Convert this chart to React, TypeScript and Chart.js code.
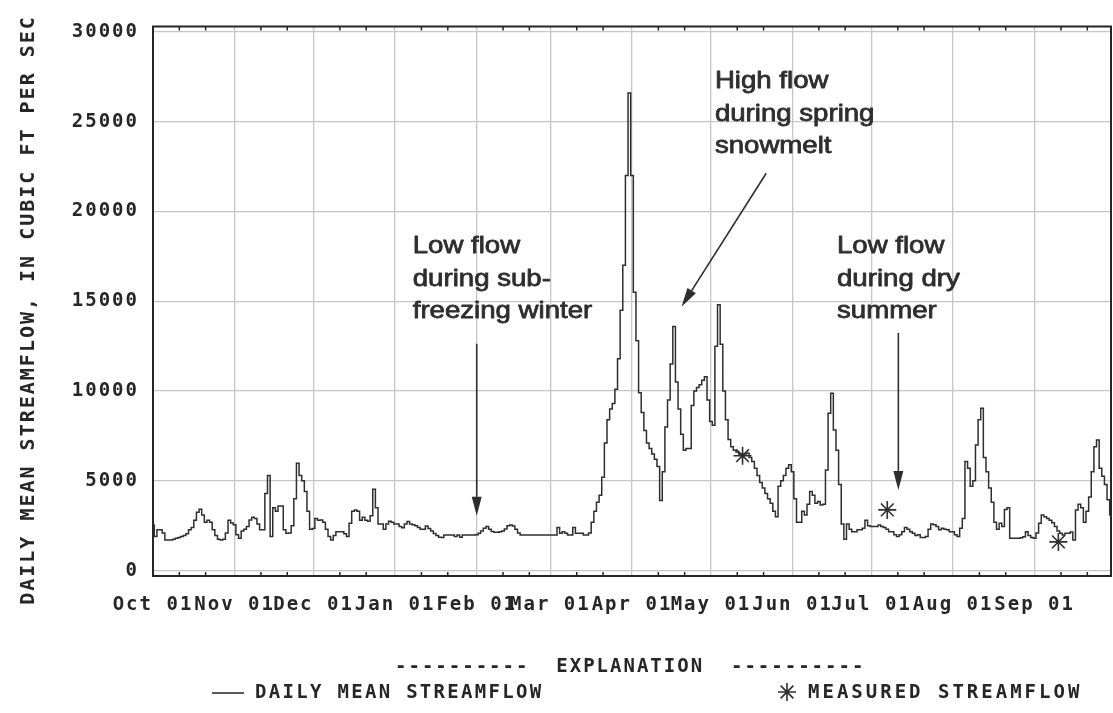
import { useEffect, useRef } from "react";
import { Chart, registerables } from "chart.js";

Chart.register(...registerables);

// Water year, day 0 = October 1
const MONTH_LABELS = ["Oct 01", "Nov 01", "Dec 01", "Jan 01", "Feb 01", "Mar 01", "Apr 01", "May 01", "Jun 01", "Jul 01", "Aug 01", "Sep 01"];
const MONTH_START_DAYS = [0, 31, 61, 92, 123, 151, 182, 212, 243, 273, 304, 335];
const MINOR_TICK_DAYS = MONTH_START_DAYS.flatMap((d) => [d + 10, d + 20]);
const Y_TICKS = [0, 5000, 10000, 15000, 20000, 25000, 30000];

// Daily mean streamflow, cubic feet per second
const octFlow = [2545, 1900, 2270, 2270, 2100, 1710, 1710, 1710, 1750, 1800, 1850, 1900, 1950, 2050, 2270, 2400, 2800, 3250, 3420, 3100, 2700, 2800, 2700, 2270, 1950, 1750, 1700, 1750, 2100, 2800, 2650];
const novFlow = [2550, 2000, 1800, 2200, 2300, 2450, 2820, 2970, 2900, 2600, 2270, 2270, 4300, 5300, 1900, 3500, 3300, 3600, 3600, 2270, 2080, 2100, 2500, 4000, 5980, 5300, 5000, 4400, 3300, 2300];
const decFlow = [2350, 2900, 2800, 2820, 2700, 2300, 1900, 1700, 1950, 2170, 2170, 2170, 2050, 1900, 2640, 3300, 3380, 3300, 2800, 2970, 2800, 2750, 3050, 4530, 3500, 2600, 2600, 2300, 2600, 2750, 2700];
const janFlow = [2600, 2600, 2460, 2380, 2600, 2730, 2600, 2560, 2500, 2400, 2300, 2300, 2480, 2350, 2200, 2070, 1950, 1860, 1840, 1990, 1990, 1990, 1990, 1900, 1990, 1860, 1990, 1990, 1990, 1990, 1990];
const febFlow = [2000, 2080, 2200, 2360, 2450, 2300, 2180, 2140, 2140, 2170, 2200, 2320, 2500, 2540, 2480, 2300, 2100, 1990, 1990, 1990, 1990, 1990, 1990, 1990, 1990, 1990, 1990, 1990];
const marFlow = [1990, 1990, 1990, 2400, 2080, 2170, 2080, 1990, 1990, 2400, 2080, 2080, 2080, 1990, 1990, 2100, 2700, 3300, 3800, 4200, 5200, 7100, 8400, 9000, 9300, 10100, 11800, 14500, 17000, 22000, 26600];
const aprFlow = [22000, 15500, 12800, 9900, 8800, 7800, 7100, 6800, 6500, 6200, 5800, 3900, 5500, 8000, 9500, 11500, 13600, 10500, 9000, 7600, 6700, 6800, 6800, 9200, 10000, 10200, 10350, 10600, 10800, 9500];
const mayFlow = [8300, 8100, 12500, 14800, 12600, 10000, 8400, 7300, 6900, 6700, 6600, 6500, 6450, 6500, 6540, 6300, 6070, 5700, 5300, 4900, 4600, 4300, 4000, 3750, 3300, 3000, 4700, 5000, 5300, 5700, 5900];
const junFlow = [5500, 4000, 2700, 2700, 3300, 3100, 3700, 4400, 4200, 3750, 3850, 3650, 3700, 5600, 8760, 9880, 7830, 6700, 4800, 2600, 1750, 2600, 2300, 2170, 2170, 2270, 2270, 2360, 2800, 2500];
const julFlow = [2450, 2450, 2450, 2545, 2450, 2400, 2300, 2170, 2170, 2000, 1900, 2000, 2170, 2400, 2300, 2170, 2080, 1950, 2000, 1850, 1850, 1900, 2300, 2600, 2550, 2450, 2270, 2360, 2300, 2270, 2170];
const augFlow = [2170, 2000, 1900, 2360, 2900, 6070, 5700, 4700, 5000, 7000, 8400, 9040, 6300, 5500, 4600, 3800, 2700, 2300, 2640, 2450, 3400, 3500, 1800, 1800, 1800, 1800, 1830, 1890, 2170, 1950, 1850];
const sepFlow = [1800, 2100, 2640, 3100, 3000, 2900, 2800, 2660, 2450, 2200, 2080, 1990, 2080, 2080, 2150, 1700, 3380, 3700, 3500, 2700, 3300, 4100, 5500, 6900, 7280, 5700, 5250, 4800, 3940, 3100];

// Field measurements of streamflow
const measuredDays = [224, 279, 344];
const measuredFlow = [6400, 3380, 1600];

// Callout notes, anchored at (day, flow) of the first line's left baseline
const noteTexts = [
  ["Low flow", "during sub-", "freezing winter"],
  ["High flow", "during spring", "snowmelt"],
  ["Low flow", "during dry", "summer"],
];
const noteAnchorDays = [98.7, 213.5, 259.9];
const noteAnchorFlows = [17680, 26870, 17680];

// Callout arrows: tail (day, flow) -> head (day, flow)
const arrowTailDays = [123, 233, 283.2];
const arrowTailFlows = [12630, 22130, 13240];
const arrowHeadDays = [123, 200.8, 283.2];
const arrowHeadFlows = [3050, 14700, 4495];

const dailyFlow = [...octFlow, ...novFlow, ...decFlow, ...janFlow, ...febFlow, ...marFlow, ...aprFlow, ...mayFlow, ...junFlow, ...julFlow, ...augFlow, ...sepFlow];

const MONO = '"DejaVu Sans Mono", monospace';
const SANS = '"Liberation Sans", Arial, sans-serif';
const INK = "#262626";
const GRID = "#c6c6c6";

function drawStar(ctx: CanvasRenderingContext2D, x: number, y: number, r: number) {
  const d = r * Math.SQRT1_2;
  ctx.beginPath();
  ctx.moveTo(x - r, y); ctx.lineTo(x + r, y);
  ctx.moveTo(x, y - r); ctx.lineTo(x, y + r);
  ctx.moveTo(x - d, y - d); ctx.lineTo(x + d, y + d);
  ctx.moveTo(x - d, y + d); ctx.lineTo(x + d, y - d);
  ctx.stroke();
}

const framePlugin = {
  id: "frame",
  beforeDraw(chart: any) {
    chart.ctx.letterSpacing = "2px";
  },
  beforeDatasetsDraw(chart: any) {
    const { ctx, chartArea: a, scales } = chart;
    ctx.save();
    ctx.strokeStyle = INK;
    ctx.lineWidth = 1.5;
    ctx.beginPath();
    for (const d of MINOR_TICK_DAYS) {
      const px = scales.x.getPixelForValue(d);
      ctx.moveTo(px, a.top);
      ctx.lineTo(px, a.top + 4);
      ctx.moveTo(px, a.bottom);
      ctx.lineTo(px, a.bottom - 4);
    }
    ctx.stroke();
    ctx.lineWidth = 2;
    ctx.strokeRect(a.left, a.top, a.right - a.left, a.bottom - a.top);
    ctx.restore();
  },
};

const notesPlugin = {
  id: "notes",
  afterDraw(chart: any) {
    const { ctx, scales } = chart;
    const sx = scales.x;
    const sy = scales.y;
    ctx.save();

    // callout text
    ctx.letterSpacing = "0px";
    ctx.fillStyle = "#2e2e2e";
    ctx.strokeStyle = "#2e2e2e";
    ctx.lineWidth = 0.8;
    ctx.lineJoin = "round";
    ctx.font = `24px ${SANS}`;
    ctx.textAlign = "left";
    ctx.textBaseline = "alphabetic";
    noteTexts.forEach((lines, i) => {
      const x0 = sx.getPixelForValue(noteAnchorDays[i]);
      const y0 = sy.getPixelForValue(noteAnchorFlows[i]);
      lines.forEach((line, j) => {
        ctx.save();
        ctx.translate(x0, y0 + j * 32.5);
        ctx.scale(1.15, 1);
        ctx.fillText(line, 0, 0);
        ctx.strokeText(line, 0, 0);
        ctx.restore();
      });
    });

    // callout arrows
    ctx.strokeStyle = "#2e2e2e";
    ctx.fillStyle = "#2e2e2e";
    ctx.lineWidth = 1.6;
    arrowTailDays.forEach((_, i) => {
      const x1 = sx.getPixelForValue(arrowTailDays[i]);
      const y1 = sy.getPixelForValue(arrowTailFlows[i]);
      const x2 = sx.getPixelForValue(arrowHeadDays[i]);
      const y2 = sy.getPixelForValue(arrowHeadFlows[i]);
      const ang = Math.atan2(y2 - y1, x2 - x1);
      const len = 19;
      const half = 5;
      const bx = x2 - Math.cos(ang) * len;
      const by = y2 - Math.sin(ang) * len;
      ctx.beginPath();
      ctx.moveTo(x1, y1);
      ctx.lineTo(bx, by);
      ctx.stroke();
      ctx.beginPath();
      ctx.moveTo(x2, y2);
      ctx.lineTo(bx + Math.sin(ang) * half, by - Math.cos(ang) * half);
      ctx.lineTo(bx - Math.sin(ang) * half, by + Math.cos(ang) * half);
      ctx.closePath();
      ctx.fill();
    });

    // y axis title
    ctx.letterSpacing = "2px";
    ctx.fillStyle = INK;
    ctx.font = `bold 20px ${MONO}`;
    ctx.textAlign = "center";
    ctx.textBaseline = "middle";
    ctx.save();
    ctx.translate(29, 310);
    ctx.rotate(-Math.PI / 2);
    ctx.fillText("DAILY MEAN STREAMFLOW, IN CUBIC FT PER SEC", 0, 0);
    ctx.restore();

    // explanation block
    ctx.font = `bold 19px ${MONO}`;
    ctx.textAlign = "left";
    ctx.fillText("----------  EXPLANATION  ----------", 395, 667);
    ctx.letterSpacing = "2.3px";
    ctx.fillText("DAILY MEAN STREAMFLOW", 255, 693);
    ctx.letterSpacing = "3px";
    ctx.fillText("MEASURED STREAMFLOW", 808, 693);
    const lineDs = chart.data.datasets[0];
    ctx.strokeStyle = lineDs.borderColor;
    ctx.lineWidth = 1.6;
    ctx.beginPath();
    ctx.moveTo(212, 693);
    ctx.lineTo(244, 693);
    ctx.stroke();
    drawStar(ctx, 787, 692, 9);
    ctx.restore();
  },
};

export default function App() {
  const ref = useRef<HTMLCanvasElement>(null);

  useEffect(() => {
    const canvas = ref.current;
    if (!canvas) return;
    const tickFont = { family: MONO, size: 19, weight: "bold" as const };
    const chart = new Chart(canvas, {
      type: "line",
      data: {
        datasets: [
          {
            label: "DAILY MEAN STREAMFLOW",
            data: dailyFlow.map((y, i) => ({ x: i, y })),
            borderColor: "#2e2e2e",
            borderWidth: 1.5,
            pointRadius: 0,
            stepped: "middle",
            fill: false,
          },
          {
            label: "MEASURED STREAMFLOW",
            data: measuredDays.map((x, i) => ({ x, y: measuredFlow[i] })),
            showLine: false,
            pointStyle: "star",
            pointRadius: 9,
            borderColor: "#2e2e2e",
            backgroundColor: "#2e2e2e",
            borderWidth: 1.6,
          },
        ],
      },
      options: {
        animation: false,
        responsive: false,
        devicePixelRatio: 1,
        events: [],
        layout: { autoPadding: false, padding: { left: 0, top: 26.5, right: 2, bottom: 0 } },
        plugins: { legend: { display: false }, tooltip: { enabled: false }, title: { display: false } },
        scales: {
          x: {
            type: "linear",
            min: 0,
            max: 364,
            afterBuildTicks: (s: any) => {
              s.ticks = MONTH_START_DAYS.map((value) => ({ value }));
            },
            afterFit: (s: any) => {
              s.height = 137;
            },
            ticks: {
              autoSkip: false,
              maxRotation: 0,
              minRotation: 0,
              padding: 18,
              color: INK,
              font: tickFont,
              callback: (v: any) => {
                const k = MONTH_START_DAYS.indexOf(Number(v));
                return k >= 0 ? MONTH_LABELS[k] : "";
              },
            },
            grid: { color: GRID, lineWidth: 1.3, drawTicks: false },
            border: { display: false },
          },
          y: {
            min: -300,
            max: 30300,
            afterBuildTicks: (s: any) => {
              s.ticks = Y_TICKS.map((value) => ({ value }));
            },
            afterFit: (s: any) => {
              s.width = 153;
            },
            ticks: {
              padding: 14,
              color: INK,
              font: tickFont,
              callback: (v: any) => String(v),
            },
            grid: { color: GRID, lineWidth: 1.3, drawTicks: false },
            border: { display: false },
          },
        },
      },
      plugins: [framePlugin, notesPlugin],
    });
    return () => chart.destroy();
  }, []);

  return (
    <div style={{ position: "fixed", left: 0, top: 0, width: 1113, height: 713, background: "#fff" }}>
      <canvas ref={ref} width={1113} height={713} style={{ display: "block", width: 1113, height: 713 }} />
    </div>
  );
}
